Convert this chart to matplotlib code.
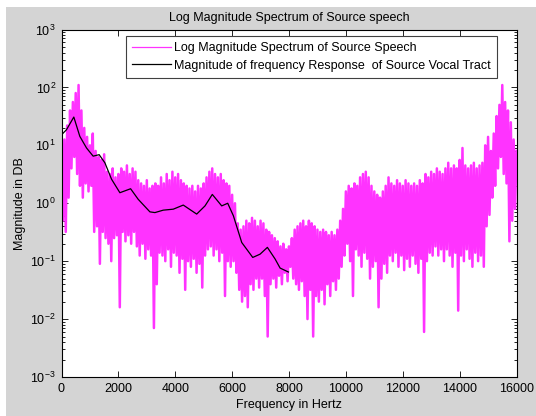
#!/usr/bin/env python3
import numpy as np
import matplotlib
matplotlib.use("Agg")
import matplotlib.pyplot as plt
from matplotlib.patches import Rectangle
from matplotlib.ticker import LogLocator, NullFormatter

plt.rcParams["font.family"] = ["Liberation Sans", "DejaVu Sans"]
plt.rcParams["mathtext.default"] = "regular"

# spectrum, upper edge of the band every 100 Hz (0 .. 16000)
spec_hi = [
    8, 12.6, 22, 40, 56, 80, 110, 40, 20, 14,
    10, 16, 8, 6.3, 5.6, 7, 3.5, 3.2, 4, 2.8,
    3.2, 4, 3.5, 4.5, 3.2, 4, 3.5, 2.5, 2.2, 2,
    2.5, 1.8, 2, 2.2, 2, 2.8, 2.2, 3.2, 2.5, 3.5,
    2.8, 3.2, 2.5, 2.2, 2, 1.8, 2, 1.6, 2, 1.8,
    2.2, 2.8, 3.5, 4, 3.2, 2.8, 3.2, 2.5, 2.2, 2,
    1.4, 1, 0.45, 0.35, 0.4, 0.5, 0.45, 0.56, 0.5, 0.4,
    0.5, 0.45, 0.35, 0.32, 0.28, 0.25, 0.22, 0.18, 0.2, 0.16,
    0.18, 0.25, 0.35, 0.4, 0.45, 0.5, 0.4, 0.5, 0.45, 0.4,
    0.35, 0.32, 0.35, 0.32, 0.28, 0.32, 0.28, 0.35, 0.5, 0.8,
    1.6, 2, 1.8, 2.2, 2, 2.8, 3.2, 3.5, 2.8, 2,
    1.6, 1.4, 1.25, 1.6, 2, 2.8, 2.2, 2, 2.5, 2.2,
    2, 2.5, 2.2, 2, 2.2, 2, 2.5, 2.2, 3.2, 2.8,
    3.5, 3.2, 4, 3.5, 3.2, 4, 5, 4, 4.5, 4,
    5.6, 9, 4.5, 4, 4.5, 5, 4, 4.5, 5, 10,
    14, 8, 16, 32, 50, 110, 56, 40, 25, 12.6,
    8,
]

# spectrum, lower edge of the band every 100 Hz (50 .. 15950)
spec_lo = [
    0.5, 0.32, 1.25, 4, 6.3, 3.2, 2, 1.25, 2.2, 1.6,
    2, 0.32, 0.4, 0.09, 0.32, 0.25, 0.2, 0.1, 0.25, 0.28,
    0.016, 0.32, 0.22, 0.28, 0.2, 0.32, 0.18, 0.125, 0.2, 0.11,
    0.16, 0.125, 0.007, 0.04, 0.14, 0.125, 0.1, 0.16, 0.08, 0.14,
    0.125, 0.063, 0.11, 0.032, 0.1, 0.08, 0.11, 0.063, 0.09, 0.035,
    0.125, 0.16, 0.18, 0.125, 0.16, 0.1, 0.14, 0.025, 0.1, 0.08,
    0.1, 0.063, 0.032, 0.02, 0.025, 0.016, 0.04, 0.032, 0.05, 0.035,
    0.05, 0.025, 0.005, 0.04, 0.05, 0.035, 0.056, 0.04, 0.063, 0.045,
    0.08, 0.05, 0.04, 0.032, 0.045, 0.025, 0.01, 0.032, 0.005, 0.025,
    0.02, 0.032, 0.018, 0.04, 0.025, 0.045, 0.032, 0.05, 0.08, 0.125,
    0.2, 0.1, 0.025, 0.16, 0.125, 0.08, 0.14, 0.11, 0.05, 0.08,
    0.1, 0.016, 0.05, 0.09, 0.063, 0.125, 0.1, 0.14, 0.08, 0.125,
    0.07, 0.11, 0.08, 0.125, 0.09, 0.063, 0.11, 0.006, 0.1, 0.14,
    0.125, 0.18, 0.125, 0.16, 0.1, 0.16, 0.125, 0.08, 0.14, 0.014,
    0.125, 0.1, 0.16, 0.11, 0.08, 0.14, 0.1, 0.125, 0.08, 0.4,
    0.63, 1.25, 2, 4, 6.3, 3.2, 2.2, 0.22, 0.5, 0.8,
]

# vocal tract response (black curve)
env_freq = [0, 175, 433, 644, 880, 1113, 1324, 1525, 1760, 2053,
            2430, 2697, 3109, 3285, 3578, 3930, 4282, 4754, 5046, 5303,
            5634, 5845, 6043, 6338, 6725, 6982, 7240, 7511, 7687, 7979]
env_mag = [15.2, 18.6, 30.8, 14.3, 9.0, 6.5, 6.9, 5.0, 2.6, 1.52,
           1.78, 1.17, 0.71, 0.69, 0.76, 0.79, 0.93, 0.65, 0.9, 1.42,
           0.9, 1.0, 0.61, 0.21, 0.116, 0.132, 0.173, 0.109, 0.076, 0.065]

xticks = [0, 2000, 4000, 6000, 8000, 10000, 12000, 14000, 16000]

# interleave upper / lower edges on a 50 Hz grid
freq = np.arange(0, 16001, 50)
mag = np.empty(len(freq))
mag[0::2] = spec_hi
mag[1::2] = spec_lo

W, H = 536, 416
FS = 9
fig = plt.figure(figsize=(W / 100, H / 100), dpi=100, facecolor="white")
fig.patches.append(Rectangle((6 / W, 0), 530 / W, 409 / H, transform=fig.transFigure,
                             facecolor="#d4d4d4", edgecolor="none", zorder=-10))

ax = fig.add_axes([61.5 / W, (H - 377) / H, (516.5 - 61.5) / W, (377 - 29.5) / H])
ax.set_zorder(5)
ax.set_facecolor("white")

ax.semilogy(freq, mag, color="#ff33ff", lw=1.8,
            label="Log Magnitude Spectrum of Source Speech")
ax.semilogy(env_freq, env_mag, color="black", lw=0.9,
            label="Magnitude of frequency Response  of Source Vocal Tract")

ax.set_xlim(0, 16000)
ax.set_ylim(1e-3, 1e3)
ax.set_xticks(xticks)
ax.set_xticklabels([str(t) for t in xticks])
ax.yaxis.set_major_locator(LogLocator(base=10, numticks=10))
ax.yaxis.set_minor_locator(LogLocator(base=10, subs=np.arange(2, 10), numticks=20))
ax.yaxis.set_minor_formatter(NullFormatter())

ax.tick_params(which="both", direction="in", top=True, right=True, labelsize=FS,
               width=0.6, colors="black")
ax.tick_params(which="major", length=4, pad=4)
ax.tick_params(which="minor", length=2)
for s in ax.spines.values():
    s.set_linewidth(0.8)

ax.set_title("Log Magnitude Spectrum of Source speech", fontsize=FS, pad=6)
ax.set_xlabel("Frequency in Hertz", fontsize=FS, labelpad=3)
ax.set_ylabel("Magnitude in DB", fontsize=FS, labelpad=3)

leg = ax.legend(loc="upper left", bbox_to_anchor=(0.142, 0.982), borderaxespad=0,
                fontsize=FS, fancybox=False, framealpha=1, edgecolor="0.25",
                handlelength=3.1, borderpad=0.5, labelspacing=0.45, handletextpad=0.25)
leg.get_frame().set_linewidth(0.8)
for line in leg.get_lines():
    line.set_linewidth(0.9)

fig.savefig("out.png", dpi=100, facecolor=fig.get_facecolor())
